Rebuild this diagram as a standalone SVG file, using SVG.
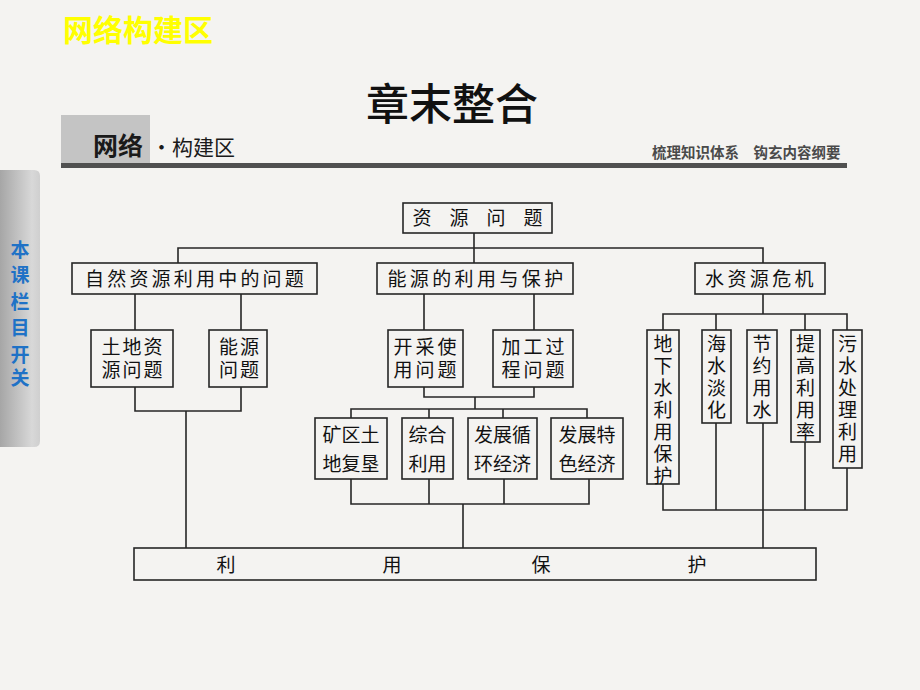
<svg xmlns="http://www.w3.org/2000/svg" width="920" height="690" viewBox="0 0 920 690">
<defs>
<linearGradient id="tab" x1="0" y1="0" x2="1" y2="0">
<stop offset="0" stop-color="#a6a6a6"/>
<stop offset="0.8" stop-color="#d8d8d8"/>
<stop offset="1" stop-color="#cfcfcf"/>
</linearGradient>
<style>
.bx{fill:none;stroke:#262626;stroke-width:1.6}
.ln{fill:none;stroke:#262626;stroke-width:1.6}
.t{font-family:"Noto Sans CJK SC","Noto Sans",sans-serif;font-size:19px;fill:#111;text-anchor:middle}
</style>
</defs>
<rect width="920" height="690" fill="#f4f3f1"/>

<!-- header -->
<text x="63" y="41" font-family="Noto Sans CJK SC,sans-serif" font-size="30" font-weight="bold" fill="#ffff00">网络构建区</text>
<text x="452" y="120" font-family="Noto Sans CJK SC,sans-serif" font-size="43" font-weight="500" fill="#111" text-anchor="middle">章末整合</text>
<rect x="61" y="115" width="89" height="48" fill="#c4c4c4"/>
<rect x="61" y="163" width="786" height="5" fill="#505050"/>
<text x="93" y="155" font-family="Noto Sans CJK SC,sans-serif" font-size="25" font-weight="bold" fill="#1a1a1a">网络</text>
<text x="151" y="155" font-family="Noto Sans CJK SC,sans-serif" font-size="21" fill="#1a1a1a">·<tspan x="172">构建区</tspan></text>
<text x="652" y="158" font-family="Noto Sans CJK SC,sans-serif" font-size="14.5" font-weight="bold" fill="#4a4a4a">梳理知识体系　钩玄内容纲要</text>

<!-- side tab -->
<g id="tab-nav">
<path d="M0 170 H34 Q40 170 40 176 V441 Q40 447 34 447 H0 Z" fill="url(#tab)"/>
<text x="20 20 20 20 20 20" y="257 282 309 335 362 385" font-family="Noto Sans CJK SC,sans-serif" font-size="19" font-weight="bold" fill="#1f72c6" text-anchor="middle">本课栏目开关</text>
</g>

<!-- connectors -->
<g id="connectors" class="ln">
<path d="M474 233 V263"/>
<path d="M178 263 V248 H763 V263"/>
<path d="M135 294 V330 M241 294 V330"/>
<path d="M424 294 V330 M534 294 V330"/>
<path d="M763 294 V314 M663 330 V314 H847 V330 M716 314 V330 M805 314 V330"/>
<path d="M135 387 V411 H241 V387 M186 411 V548"/>
<path d="M424 387 V397 H534 V387 M475 397 V409 M351 418 V409 H587 V418 M429 409 V418 M503 409 V418"/>
<path d="M351 479 V504 H589 V479 M429 479 V504 M504 479 V504 M463 504 V548"/>
<path d="M663 484 V510 H847 V468 M716 423 V510 M805 442 V510 M763 423 V548"/>
</g>

<!-- nodes -->
<g id="n-root"><rect class="bx" x="403" y="203" width="149" height="30"/><text class="t" x="486.5" y="225" letter-spacing="18">资源问题</text></g>
<g id="n-nature"><rect class="bx" x="72" y="263" width="245" height="31"/><text class="t" x="196" y="286" letter-spacing="3.2">自然资源利用中的问题</text></g>
<g id="n-energy"><rect class="bx" x="377" y="263" width="196" height="31"/><text class="t" x="477" y="286" letter-spacing="3.4">能源的利用与保护</text></g>
<g id="n-water"><rect class="bx" x="695" y="263" width="130" height="31"/><text class="t" x="761" y="286" letter-spacing="3.4">水资源危机</text></g>

<g id="n-land"><rect class="bx" x="91" y="330" width="82" height="57"/><text class="t" x="111 132 153 111 132 153" y="354 354 354 377 377 377">土地资源问题</text></g>
<g id="n-enq"><rect class="bx" x="209" y="330" width="58" height="57"/><text class="t" x="228.5 249.5 228.5 249.5" y="354 354 377 377">能源问题</text></g>
<g id="n-mine"><rect class="bx" x="388" y="330" width="75" height="57"/><text class="t" x="403 425 447 403 425 447" y="354 354 354 377 377 377">开采使用问题</text></g>
<g id="n-proc"><rect class="bx" x="493" y="330" width="80" height="57"/><text class="t" x="511 533 555 511 533 555" y="354 354 354 377 377 377">加工过程问题</text></g>

<g id="n-reclaim"><rect class="bx" x="315" y="418" width="72" height="61"/><text class="t" x="351" y="442">矿区土<tspan x="351" y="471">地复垦</tspan></text></g>
<g id="n-comp"><rect class="bx" x="402" y="418" width="51" height="61"/><text class="t" x="427.5" y="442">综合<tspan x="427.5" y="471">利用</tspan></text></g>
<g id="n-circ"><rect class="bx" x="468" y="418" width="69" height="61"/><text class="t" x="502.5" y="442">发展循<tspan x="502.5" y="471">环经济</tspan></text></g>
<g id="n-feat"><rect class="bx" x="551" y="418" width="72" height="61"/><text class="t" x="587" y="442">发展特<tspan x="587" y="471">色经济</tspan></text></g>

<g id="n-ground"><rect class="bx" x="647" y="330" width="32" height="154"/><text class="t" x="663 663 663 663 663 663 663" y="351 373 395 417 439 461 483">地下水利用保护</text></g>
<g id="n-desal"><rect class="bx" x="702" y="330" width="29" height="93"/><text class="t" x="716.5 716.5 716.5 716.5" y="351 373 395 417">海水淡化</text></g>
<g id="n-save"><rect class="bx" x="747" y="330" width="30" height="93"/><text class="t" x="762 762 762 762" y="351 373 395 417">节约用水</text></g>
<g id="n-eff"><rect class="bx" x="791" y="330" width="29" height="112"/><text class="t" x="805.5 805.5 805.5 805.5 805.5" y="351 373 395 417 439">提高利用率</text></g>
<g id="n-sewage"><rect class="bx" x="833" y="330" width="29" height="138"/><text class="t" x="847.5 847.5 847.5 847.5 847.5 847.5" y="351 373 395 417 439 461">污水处理利用</text></g>

<g id="n-bottom"><rect class="bx" x="134" y="548" width="682" height="32"/><text class="t" x="226 392 541 697" y="572" font-size="18">利用保护</text></g>
</svg>
